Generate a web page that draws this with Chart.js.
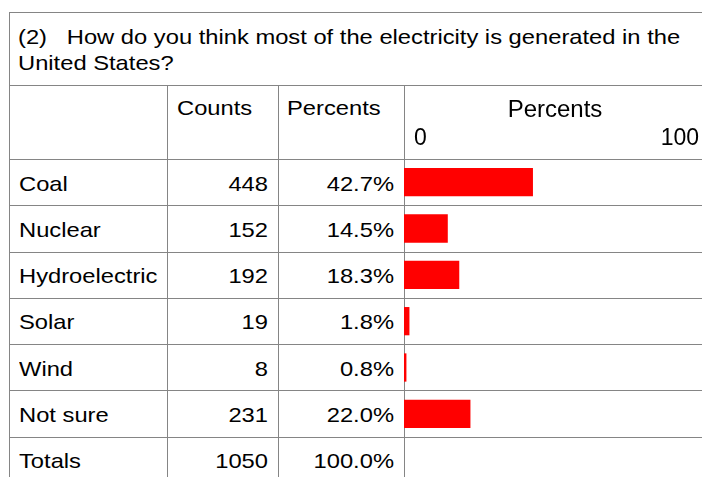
<!DOCTYPE html>
<html>
<head>
<meta charset="utf-8">
<script src="https://cdn.jsdelivr.net/npm/chart.js@4.4.1/dist/chart.umd.min.js"></script>
<style>
html, body { margin: 0; padding: 0; background: #fff; width: 702px; height: 477px; overflow: hidden; }
body { position: relative; font-family: "Liberation Sans", Arial, sans-serif; font-size: 21px; color: #000; }
.hl { position: absolute; height: 1px; background: #858585; }
.vl { position: absolute; width: 1px; background: #858585; }
.t { position: absolute; white-space: pre; line-height: 26px; transform: scaleX(1.13); transform-origin: left center; }
.r { text-align: right; transform-origin: right center; }
#wrap { position: absolute; left: 404px; top: 85px; width: 302px; height: 352px; }
</style>
</head>
<body>
<div id="tbl"></div>
<div id="wrap"><canvas id="bars"></canvas></div>
<script>
const TITLE = ["(2)   How do you think most of the electricity is generated in the", "United States?"];
const HEADERS = ["Counts", "Percents"];
const AXIS_TITLE = "Percents";
const CATEGORIES = ["Coal", "Nuclear", "Hydroelectric", "Solar", "Wind", "Not sure"];
const COUNTS = [448, 152, 192, 19, 8, 231];
const PERCENTS = [42.7, 14.5, 18.3, 1.8, 0.8, 22.0];
const TOTAL_LABEL = "Totals";
const TOTAL_COUNT = 1050;
const TOTAL_PERCENT = "100.0%";
const AXIS_MIN = 0, AXIS_MAX = 100;

// table geometry
const COLX = [9, 167, 278, 404, 712];
const TOP = 12, TITLE_BOT = 85, HEAD_BOT = 159, ROW_H = 46.25;

const tbl = document.getElementById("tbl");
function line(cls, x, y, len) {
  const d = document.createElement("div");
  d.className = cls;
  d.style.left = x + "px";
  d.style.top = y + "px";
  if (cls === "hl") d.style.width = len + "px"; else d.style.height = len + "px";
  tbl.appendChild(d);
}
function text(s, x, y, w, right) {
  const d = document.createElement("div");
  d.className = "t" + (right ? " r" : "");
  d.textContent = s;
  d.style.left = x + "px";
  d.style.top = y + "px";
  if (w) d.style.width = w + "px";
  tbl.appendChild(d);
}

// lines
line("hl", COLX[0], TOP, COLX[4] - COLX[0]);
line("hl", COLX[0], TITLE_BOT, COLX[4] - COLX[0]);
line("hl", COLX[0], HEAD_BOT, COLX[4] - COLX[0]);
for (let i = 1; i <= CATEGORIES.length; i++) {
  line("hl", COLX[0], Math.round(HEAD_BOT + ROW_H * i), COLX[4] - COLX[0]);
}
line("vl", COLX[0], TOP, 477 - TOP);
for (let c = 1; c < 4; c++) line("vl", COLX[c], TITLE_BOT, 477 - TITLE_BOT);

// title
text(TITLE[0], 18, 24);
text(TITLE[1], 18, 50);

// header
text(HEADERS[0], COLX[1] + 10, 95);
text(HEADERS[1], COLX[2] + 9, 95);

// rows
const rows = CATEGORIES.map((c, i) => [c, String(COUNTS[i]), PERCENTS[i].toFixed(1) + "%"]);
rows.push([TOTAL_LABEL, String(TOTAL_COUNT), TOTAL_PERCENT]);
rows.forEach((r, i) => {
  const y = Math.round(HEAD_BOT + ROW_H * i + ROW_H / 2 - 11.5);
  text(r[0], COLX[0] + 10, y);
  text(r[1], COLX[1], y, COLX[2] - COLX[1] - 10, true);
  text(r[2], COLX[2], y, COLX[3] - COLX[2] - 10, true);
});

// nudge the two end tick labels inward a little, like the original
const tickNudge = {
  id: "tickNudge",
  beforeDraw(chart) {
    const items = chart.scales.x.getLabelItems();
    if (items.length === 2) {
      items[0].options.translation[0] += 10;
      items[1].options.translation[0] -= 7;
    }
  }
};

// bars
new Chart(document.getElementById("bars"), {
  type: "bar",
  data: {
    labels: CATEGORIES,
    datasets: [{
      data: PERCENTS,
      backgroundColor: "#ff0000",
      borderWidth: 0,
      categoryPercentage: 1,
      barPercentage: 0.61
    }]
  },
  options: {
    indexAxis: "y",
    responsive: true,
    maintainAspectRatio: false,
    animation: false,
    layout: { padding: 0 },
    plugins: { legend: { display: false }, tooltip: { enabled: false } },
    scales: {
      x: {
        position: "top",
        min: AXIS_MIN,
        max: AXIS_MAX,
        afterBuildTicks: (s) => { s.ticks = [{ value: AXIS_MIN }, { value: AXIS_MAX }]; },
        afterFit: (s) => { s.height = 74; s.paddingLeft = 0; s.paddingRight = 0; },
        ticks: {
          align: "inner",
          color: "#000",
          padding: 7,
          maxRotation: 0,
          font: { family: "'Liberation Sans', Arial, sans-serif", size: 23 }
        },
        title: {
          display: true,
          text: AXIS_TITLE,
          color: "#000",
          padding: { top: 11, bottom: 0 },
          font: { family: "'Liberation Sans', Arial, sans-serif", size: 24 }
        },
        grid: { display: false, drawTicks: false },
        border: { display: false }
      },
      y: { display: false }
    }
  },
  plugins: [tickNudge]
});
</script>
</body>
</html>
